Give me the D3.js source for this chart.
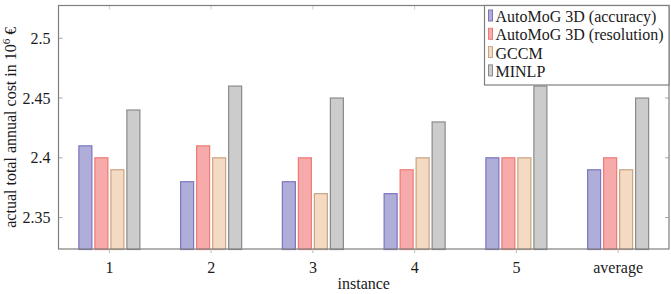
<!DOCTYPE html>
<html>
<head>
<meta charset="utf-8">
<script src="https://cdn.jsdelivr.net/npm/d3@7"></script>
<style>
  html, body { margin: 0; padding: 0; background: #fff; }
</style>
</head>
<body>
<div id="container"></div>
<script>
// data
const instances = ['1', '2', '3', '4', '5', 'average'];
const series = ['AutoMoG 3D (accuracy)', 'AutoMoG 3D (resolution)', 'GCCM', 'MINLP'];
const accuracy = [2.41, 2.38, 2.38, 2.37, 2.40, 2.39];
const resolution = [2.40, 2.41, 2.40, 2.39, 2.40, 2.40];
const gccm = [2.39, 2.40, 2.37, 2.40, 2.40, 2.39];
const minlp = [2.44, 2.46, 2.45, 2.43, 2.46, 2.45];
const yTicks = [2.35, 2.4, 2.45, 2.5];

const fills = ['#aeaed8', '#f6aaaa', '#f4dac2', '#cccccc'];
const strokes = ['#7c74c0', '#ee7a76', '#c9a484', '#8a8a8a'];

const w = 671;
const h = 294;
const margin = { left: 58.5, right: 2, top: 5.5, bottom: 45 };
const font = "'Liberation Serif', 'DejaVu Serif', serif";

const values = [accuracy, resolution, gccm, minlp];
const rows = instances.map((inst, i) => ({
    inst,
    vals: series.map((s, j) => ({ s, j, v: values[j][i] }))
}));

const svg = d3.select('#container').append('svg')
    .attr('width', w)
    .attr('height', h);

const x0 = d3.scaleBand()
    .domain(instances)
    .range([margin.left, w - margin.right]);

const x1 = d3.scaleBand()
    .domain(series)
    .range([-31, 31])
    .paddingInner(0.125);

const y = d3.scaleLinear()
    .domain([2.3233, 2.527])
    .range([h - margin.bottom, margin.top]);

const frameColor = '#7f7f7f';

// bars
const groups = svg.append('g')
    .selectAll('g')
    .data(rows)
    .join('g')
    .attr('transform', d => `translate(${x0(d.inst) + x0.bandwidth() / 2}, 0)`);

groups.selectAll('rect')
    .data(d => d.vals)
    .join('rect')
    .attr('x', d => x1(d.s) + 0.5)
    .attr('y', d => y(d.v) + 0.5)
    .attr('width', x1.bandwidth() - 1)
    .attr('height', d => y.range()[0] - y(d.v))
    .attr('fill', d => fills[d.j])
    .attr('stroke', d => strokes[d.j])
    .attr('stroke-width', 1.2);

// y axis (left) and mirrored ticks (right)
const yAxis = d3.axisLeft(y)
    .tickValues(yTicks)
    .tickSize(-4)
    .tickPadding(8)
    .tickFormat(d => String(d));

const gy = svg.append('g')
    .attr('transform', `translate(${margin.left}, 0)`)
    .call(yAxis);
gy.select('.domain').remove();
gy.selectAll('.tick line').attr('stroke', '#aaa');
gy.selectAll('.tick text').attr('font-size', 16).attr('dy', '0.35em');

const gyR = svg.append('g')
    .attr('transform', `translate(${w - margin.right}, 0)`)
    .call(d3.axisRight(y).tickValues(yTicks).tickSize(-4).tickFormat(''));
gyR.select('.domain').remove();
gyR.selectAll('.tick line').attr('stroke', '#aaa');

// x axis
const xAxis = d3.axisBottom(x0)
    .tickSize(4)
    .tickPadding(9);

const gx = svg.append('g')
    .attr('transform', `translate(0, ${h - margin.bottom})`)
    .call(xAxis);
gx.select('.domain').remove();
gx.selectAll('.tick line').attr('stroke', '#bbb');
gx.selectAll('.tick text').attr('font-size', 16);

const gxT = svg.append('g')
    .attr('transform', `translate(0, ${margin.top})`)
    .call(d3.axisTop(x0).tickSize(-4).tickFormat(''));
gxT.select('.domain').remove();
gxT.selectAll('.tick line').attr('stroke', '#ccc');

// frame
svg.append('rect')
    .attr('x', margin.left)
    .attr('y', margin.top)
    .attr('width', w - margin.right - margin.left)
    .attr('height', y.range()[0] - margin.top)
    .attr('fill', 'none')
    .attr('stroke', frameColor)
    .attr('stroke-width', 1.2);

// axis labels
svg.append('text')
    .attr('x', (margin.left + w - margin.right) / 2)
    .attr('y', 289)
    .attr('text-anchor', 'middle')
    .attr('font-size', 16)
    .text('instance');

const yl = svg.append('text')
    .attr('transform', `translate(16, ${(margin.top + y.range()[0]) / 2}) rotate(-90)`)
    .attr('text-anchor', 'middle')
    .attr('font-size', 16);
yl.append('tspan').text('actual total annual cost in 10');
yl.append('tspan').attr('dy', -6).attr('font-size', 11).text('6');
yl.append('tspan').attr('dy', 6).text(' €');

// legend
const lx = 484.5;
const legend = svg.append('g');
legend.append('rect')
    .attr('x', lx)
    .attr('y', margin.top)
    .attr('width', w - margin.right - lx)
    .attr('height', 85 - margin.top)
    .attr('fill', '#fff')
    .attr('stroke', frameColor)
    .attr('stroke-width', 1.2);

const item = legend.selectAll('g.item')
    .data(series)
    .join('g')
    .attr('class', 'item')
    .attr('transform', (d, i) => `translate(${lx}, ${22 + i * 18.3})`);

item.append('rect')
    .attr('x', 4)
    .attr('y', -12)
    .attr('width', 4)
    .attr('height', 11)
    .attr('fill', (d, i) => fills[i])
    .attr('stroke', (d, i) => strokes[i]);

item.append('text')
    .attr('x', 11)
    .attr('y', 0)
    .attr('font-size', 16)
    .text(d => d);

// one serif face for every label
svg.selectAll('text')
    .style('font-family', font)
    .style('fill', '#1a1a1a');
</script>
</body>
</html>
